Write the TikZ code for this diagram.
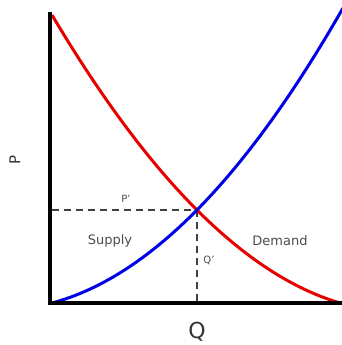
\documentclass[tikz,border=0pt]{standalone}
\usepackage{fontspec}
\setmainfont{DejaVu Sans}
\begin{document}
\begin{tikzpicture}[x=1pt,y=-1pt,
  axis/.style={line width=4.5pt,black},
  guide/.style={line width=1.8pt,black!75,dash pattern=on 7pt off 5pt},
  demandcurve/.style={line width=3pt,color={rgb,255:red,230;green,0;blue,0}},
  supplycurve/.style={line width=3pt,color={rgb,255:red,0;green,0;blue,230}},
  lbl/.style={text=black!70,inner sep=0pt,font=\fontsize{13}{15}\selectfont},
  small/.style={text=black!70,inner sep=0pt,font=\fontsize{10}{12}\selectfont}]
\useasboundingbox (0,0) rectangle (342,345);
\clip (0,0) rectangle (342,345);
\coordinate (O) at (50,303);
\coordinate (Ytop) at (50,12);
\coordinate (Xend) at (345,303);
\coordinate (E) at (197,210);
\coordinate (Ey) at (52,210);
\coordinate (Ex) at (197,303);
\coordinate (Dstart) at (52,15);
\coordinate (Dend) at (340,303);
\coordinate (Sstart) at (52,303);
\coordinate (Send) at (343,8);
\draw[guide] (Ey) -- (E);
\draw[guide] (E) -- (Ex);
\draw[demandcurve] (Dstart) .. controls (149.3,179) and (245.3,275) .. (Dend);
\draw[supplycurve] (Sstart) .. controls (148.3,277.3) and (245.3,179) .. (Send);
\draw[axis] (Ytop) -- (O) -- (Xend);
\node[text=black!80,inner sep=0pt,font=\fontsize{15}{17}\selectfont,rotate=90] (P) at (15,160) {P};
\node[text=black!80,inner sep=0pt,font=\fontsize{22}{24}\selectfont] (Q) at (197,332) {Q};
\node[small] (Pp) at (126,199) {P'};
\node[small] (Qp) at (209,260) {Q'};
\node[lbl] (sup) at (110,241) {Supply};
\node[lbl] (dem) at (280,241) {Demand};
\end{tikzpicture}
\end{document}
